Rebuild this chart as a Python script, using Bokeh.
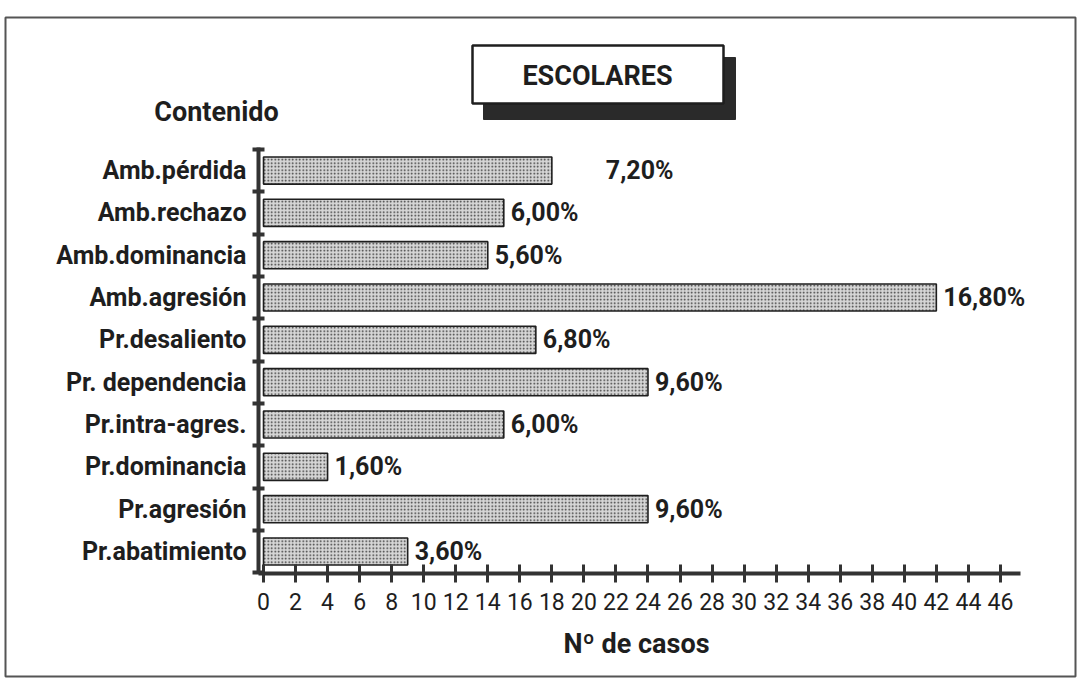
from bokeh.plotting import figure
from bokeh.models import Range1d, LinearAxis, FixedTicker, ColumnDataSource, Label
from bokeh.embed import file_html
from bokeh.resources import INLINE
from bokeh.core.properties import value

# ---- data (bottom to top) ----
categories = ["Pr.abatimiento", "Pr.agresión", "Pr.dominancia", "Pr.intra-agres.",
              "Pr. dependencia", "Pr.desaliento", "Amb.agresión", "Amb.dominancia",
              "Amb.rechazo", "Amb.pérdida"]
cases = [9, 24, 4, 15, 24, 17, 42, 14, 15, 18]
percent_labels = ["3,60%", "9,60%", "1,60%", "6,00%", "9,60%", "6,80%",
                  "16,80%", "5,60%", "6,00%", "7,20%"]
x_ticks = list(range(0, 47, 2))
title_text = "ESCOLARES"
y_title = "Contenido"
x_title = "Nº de casos"

# ---- layout helpers (canvas pixels -> data) ----
X0, XS = 263.0, 16.02      # canvas x of 0 cases, px per case
Y0, YS = 551.0, 42.33      # canvas y of first category, px per category
def dx(px):
    return (px - X0) / XS
def dy(py):
    return (Y0 - py) / YS

W, H = 1077, 678
FL, FR, FT, FB = 5, 1075, 17, 676   # frame edges in canvas px
p = figure(width=W, height=H, output_backend="svg", toolbar_location=None,
           x_range=Range1d(dx(FL), dx(FR)), y_range=Range1d(dy(FB), dy(FT)),
           min_border_left=FL, min_border_right=W - FR, min_border_top=FT,
           min_border_bottom=H - FB, x_axis_type=None, y_axis_type=None)
p.grid.visible = False
p.outline_line_color = "#555555"
p.outline_line_width = 2
p.background_fill_color = "white"
p.border_fill_color = "white"

FONT = "Roboto"
INK = "#1e1e1e"

idx = list(range(len(categories)))
label_gap = [7, 7, 7, 7, 7, 7, 7, 7, 7, 54]
src = ColumnDataSource(dict(y=idx, right=cases, lab=percent_labels,
                            lx=[c + g / XS for c, g in zip(cases, label_gap)]))

p.hbar(y="y", left=0, right="right", height=0.64, source=src,
       fill_color="#d6d6d6", line_color=INK, line_width=1.6,
       hatch_pattern="dot", hatch_color="#333333", hatch_scale=3.5, hatch_weight=1.4)

p.text(x="lx", y="y", text="lab", source=src, text_font=value(FONT),
       text_font_size="25px", text_font_style="bold", text_color=INK,
       text_baseline="middle", text_align="left")

# ---- x axis ----
xax = LinearAxis(ticker=FixedTicker(ticks=x_ticks), fixed_location=-0.52,
                 bounds=(dx(258), dx(1020)))
xax.axis_line_width = 4
xax.axis_line_color = "#333333"
xax.major_tick_line_width = 3
xax.major_tick_line_color = "#333333"
xax.major_tick_in = 9
xax.major_tick_out = 9
xax.minor_tick_line_color = None
xax.major_label_standoff = 10
xax.major_label_text_font = FONT
xax.major_label_text_font_size = "23px"
xax.major_label_text_color = INK
p.add_layout(xax, "below")

# ---- y axis (tick marks between categories) ----
yax = LinearAxis(ticker=FixedTicker(ticks=[i - 0.5 for i in range(len(categories) + 1)]),
                 fixed_location=dx(258), bounds=(-0.52, len(categories) - 0.46))
yax.axis_line_width = 4
yax.axis_line_color = "#333333"
yax.major_tick_line_width = 4
yax.major_tick_line_color = "#333333"
yax.major_tick_in = 6
yax.major_tick_out = 6
yax.minor_tick_line_color = None
yax.major_label_text_font_size = "0px"
yax.major_label_text_color = None
p.add_layout(yax, "left")

# ---- y axis category labels ----
ylab = LinearAxis(ticker=FixedTicker(ticks=idx), fixed_location=dx(258),
                  major_label_overrides={i: c for i, c in zip(idx, categories)})
ylab.axis_line_color = None
ylab.major_tick_line_color = None
ylab.major_tick_in = 0
ylab.major_tick_out = 0
ylab.minor_tick_line_color = None
ylab.major_label_standoff = 12
ylab.major_label_text_font = FONT
ylab.major_label_text_font_size = "25px"
ylab.major_label_text_font_style = "bold"
ylab.major_label_text_color = INK
p.add_layout(ylab, "left")

# ---- title box with shadow ----
p.quad(left=dx(483), right=dx(735), top=dy(57), bottom=dy(119),
       fill_color="#2a2a2a", line_color="#2a2a2a")
p.quad(left=dx(472), right=dx(723), top=dy(45), bottom=dy(103),
       fill_color="white", line_color="#1e1e1e", line_width=2.5)
p.add_layout(Label(x=dx(597), y=dy(75), text=title_text, text_font=FONT,
                   text_font_size="27px", text_font_style="bold", text_color=INK,
                   text_align="center", text_baseline="middle"))

p.add_layout(Label(x=dx(216), y=dy(111), text=y_title, text_font=FONT,
                   text_font_size="27px", text_font_style="bold", text_color=INK,
                   text_align="center", text_baseline="middle"))
p.add_layout(Label(x=dx(636), y=dy(643), text=x_title, text_font=FONT,
                   text_font_size="27px", text_font_style="bold", text_color=INK,
                   text_align="center", text_baseline="middle"))

open("out.html", "w").write(file_html(p, INLINE))
